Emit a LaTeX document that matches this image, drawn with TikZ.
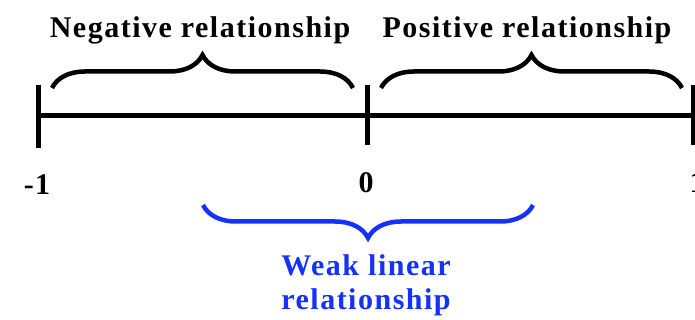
\documentclass[tikz,border=0pt]{standalone}
\usepackage{fontspec}
\newfontfamily\lblfont[LetterSpace=5]{Liberation Serif}
\usetikzlibrary{decorations.pathreplacing}
\definecolor{weakblue}{RGB}{20,50,250}
\tikzset{
  axisline/.style={line width=5pt},
  bracket/.style={line width=4.5pt, decorate, decoration={brace, amplitude=33pt}},
  lbl/.style={font=\lblfont\fontsize{30}{34}\selectfont\bfseries, inner sep=0pt},
  bluelbl/.style={lbl, text=weakblue, align=center, font=\lblfont\fontsize{30}{34}\selectfont\bfseries}
}
\begin{document}
\begin{tikzpicture}[x=1pt,y=1pt]
\useasboundingbox (0,0) rectangle (695,320);
% axis
\coordinate (aL) at (38,204);
\coordinate (aR) at (697,204);
\draw[axisline] (aL) -- (aR);
\coordinate (t1a) at (38,172); \coordinate (t1b) at (38,235);
\coordinate (t2a) at (367,175); \coordinate (t2b) at (367,235);
\coordinate (t3a) at (693,175); \coordinate (t3b) at (693,235);
\draw[axisline] (t1a) -- (t1b);
\draw[axisline] (t2a) -- (t2b);
\draw[axisline] (t3a) -- (t3b);
% top braces
\coordinate (nb1) at (52,232); \coordinate (nb2) at (353,232);
\coordinate (pb1) at (381,232); \coordinate (pb2) at (682,232);
\draw[bracket] (nb1) -- (nb2);
\draw[bracket] (pb1) -- (pb2);
% blue brace
\coordinate (wb1) at (203,115); \coordinate (wb2) at (533,115);
\draw[bracket, weakblue, decoration={mirror}] (wb1) -- (wb2);
% labels
\node[lbl] (neg) at (200,290) {Negative relationship};
\node[lbl] (pos) at (527,290) {Positive relationship};
\node[lbl] (m1) at (37,135) {-1};
\node[lbl] (z) at (366,137) {0};
\node[lbl] (p1) at (697,137) {1};
\node[bluelbl] (weak) at (366,35) {Weak linear\\relationship};
\end{tikzpicture}
\end{document}
